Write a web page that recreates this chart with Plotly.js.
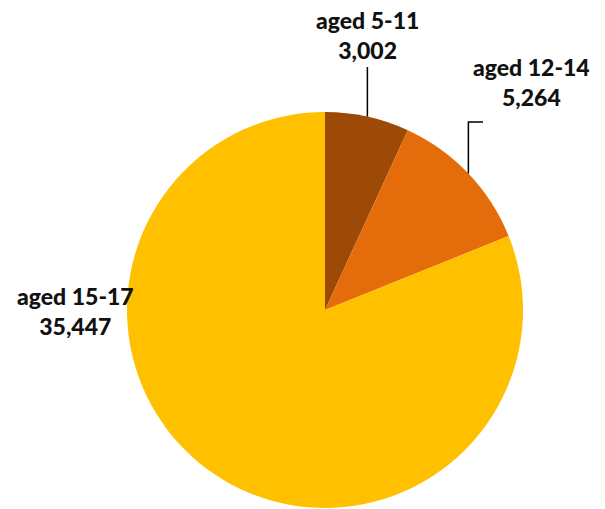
<!DOCTYPE html>
<html><head><meta charset="utf-8">
<script src="https://cdn.plot.ly/plotly-3.0.1.min.js"></script>
<style>html,body{margin:0;padding:0;background:#fff}#chart{width:605px;height:509px}</style>
</head><body><div id="chart"></div>
<script>
const categories = ["aged 5-11", "aged 12-14", "aged 15-17"];
const values = [3002, 5264, 35447];
const colors = ["#9C4A06", "#E46C0A", "#FFC000"];

const W = 605, H = 509;
const cx = 325, cy = 310, R = 198;
const total = values.reduce((a, b) => a + b, 0);
const px = x => x / W, py = y => 1 - y / H;

// edge points of slice midpoints (clockwise from 12 o'clock)
let cum = 0;
const mids = values.map(v => { const m = (cum + v / 2) / total; cum += v; return m * 2 * Math.PI; });
const edge = mids.map(a => [cx + R * Math.sin(a), cy - R * Math.cos(a)]);

const fmt = v => v.toLocaleString('en-US');
const font = {family: 'Lato, "Open Sans", sans-serif', size: 23, color: '#111', weight: 900};

const labelPos = [
  [edge[0][0], 35],
  [531, 82],
  [75, 311]
];

const shapes = [
  {type: 'line', xref: 'paper', yref: 'paper', x0: px(edge[0][0]), y0: py(edge[0][1]), x1: px(edge[0][0]), y1: py(67), line: {color: '#000', width: 1.5}},
  {type: 'path', xref: 'paper', yref: 'paper',
   path: `M ${px(edge[1][0])} ${py(edge[1][1])} L ${px(edge[1][0])} ${py(122)} L ${px(483)} ${py(122)}`,
   line: {color: '#000', width: 1.5}}
];

const annotations = categories.map((c, i) => ({
  xref: 'paper', yref: 'paper', x: px(labelPos[i][0]), y: py(labelPos[i][1]),
  xanchor: 'center', yanchor: 'middle', align: 'center', showarrow: false,
  text: c + '<br>' + fmt(values[i]), font: font
}));

Plotly.newPlot('chart', [{
  type: 'pie', labels: categories, values: values, sort: false, direction: 'clockwise', rotation: 0,
  marker: {colors: colors, line: {width: 0}}, textinfo: 'none', hoverinfo: 'label+value',
  domain: {x: [px(cx - R), px(cx + R)], y: [py(cy + R), py(cy - R)]}, showlegend: false
}], {
  width: W, height: H, margin: {l: 0, r: 0, t: 0, b: 0}, paper_bgcolor: '#fff',
  showlegend: false, shapes: shapes, annotations: annotations
}, {displayModeBar: false, staticPlot: true});
</script></body></html>
